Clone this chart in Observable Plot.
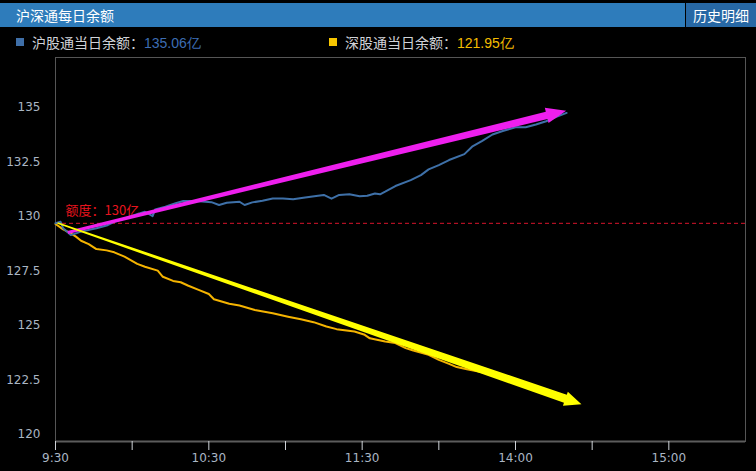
<!DOCTYPE html>
<html>
<head>
<meta charset="utf-8">
<script src="https://cdn.jsdelivr.net/npm/d3@7"></script>
<script src="https://cdn.jsdelivr.net/npm/@observablehq/plot@0.6"></script>
<style>
  html, body { margin: 0; padding: 0; background: #000; }
  body { width: 756px; height: 471px; position: relative; overflow: hidden; font-family: "Noto Sans CJK SC", "Noto Sans", sans-serif; }
  #hdr { position: absolute; left: 0; top: 3px; width: 756px; height: 24px; background: #2e7cbb; }
  #title { position: absolute; left: 16px; top: 0; line-height: 24px; font-size: 14px; color: #fff; }
  #sep { position: absolute; left: 685px; top: 0; width: 1px; height: 24px; background: #000; }
  #btn { position: absolute; left: 686px; top: 0; width: 70px; height: 24px; line-height: 24px; background: #2768a5; color: #fff; font-size: 14px; text-align: center; }
  .leg { position: absolute; top: 33px; height: 18px; line-height: 18px; font-size: 14px; color: #d0d3d8; white-space: nowrap; }
  .sw { position: absolute; top: 5px; width: 8px; height: 8px; }
  .lt { position: absolute; left: 16px; top: 0; }
  .num { font-family: "Liberation Sans", Arial, sans-serif; }
  #chart { position: absolute; left: 0; top: 50px; }
</style>
</head>
<body>
<div id="hdr"><div id="title">沪深通每日余额</div><div id="sep"></div><div id="btn">历史明细</div></div>
<div class="leg" id="leg1" style="left:16px"><div class="sw" style="left:0;background:#3f6fa8"></div><div class="lt">沪股通当日余额：<span class="num" id="v1" style="color:#3d6db3"></span></div></div>
<div class="leg" id="leg2" style="left:329px"><div class="sw" style="left:0;background:#f7c600"></div><div class="lt">深股通当日余额：<span class="num" id="v2" style="color:#f5bd00"></span></div></div>
<div id="chart"></div>
<script>
// ---- data (minutes of trading time since 9:30; 11:30 joins 13:00) ----
const shMin = [0, 2, 3, 6, 8, 10, 16, 20, 23, 26, 31, 35, 38, 39, 43, 47, 50, 55, 61, 64, 67, 72, 74, 77, 81, 85, 89, 93, 97, 102, 105, 108, 111, 115, 119, 122, 125, 127, 129, 133, 139, 143, 146, 150, 154, 160, 163, 167, 171, 175, 180, 184, 188, 192, 196, 200];
const shVal = [130.0, 130.07, 129.77, 129.46, 129.54, 129.62, 129.77, 129.9, 130.07, 130.18, 130.38, 130.53, 130.33, 130.64, 130.76, 130.92, 131.02, 131.02, 130.97, 130.84, 130.94, 130.99, 130.84, 130.96, 131.03, 131.14, 131.14, 131.1, 131.17, 131.25, 131.3, 131.13, 131.3, 131.33, 131.24, 131.26, 131.37, 131.33, 131.45, 131.71, 131.98, 132.21, 132.47, 132.67, 132.9, 133.17, 133.51, 133.78, 134.07, 134.23, 134.4, 134.4, 134.53, 134.68, 134.88, 135.06];
const szMin = [0, 3, 6, 8, 10, 13, 16, 20, 23, 27, 32, 35, 40, 42, 46, 49, 52, 56, 60, 62, 68, 72, 78, 85, 91, 96, 101, 106, 110, 117, 121, 123, 129, 133, 137, 140, 146, 150, 154, 157, 161, 170, 180, 190, 200];
const szVal = [129.97, 129.72, 129.54, 129.39, 129.2, 129.05, 128.82, 128.76, 128.67, 128.47, 128.14, 128.01, 127.83, 127.55, 127.36, 127.3, 127.14, 126.95, 126.76, 126.52, 126.31, 126.23, 126.03, 125.88, 125.72, 125.6, 125.47, 125.27, 125.15, 125.04, 124.89, 124.73, 124.58, 124.51, 124.28, 124.17, 123.97, 123.74, 123.56, 123.41, 123.31, 123.1, 122.75, 122.38, 121.95];
const xTicks = [0, 30, 60, 90, 120, 150, 180, 210, 240];
const xTickLabels = ["9:30", "", "10:30", "", "11:30", "", "14:00", "", "15:00"];
const yTicks = [120, 122.5, 125, 127.5, 130, 132.5, 135];
const yTickLabels = ["120", "122.5", "125", "127.5", "130", "132.5", "135"];
const quota = 130;
const quotaText = "额度：130亿";
// annotation arrows drawn on the picture: [minute, value]
const upArrowTail = [5, 129.56], upArrowTip = [200, 135.14];
const downArrowTail = [1, 129.99], downArrowTip = [206, 121.68];

document.getElementById("v1").textContent = shVal[shVal.length - 1].toFixed(2) + "亿";
document.getElementById("v2").textContent = szVal[szVal.length - 1].toFixed(2) + "亿";

const sh = shMin.map((m, i) => ({m, v: shVal[i]}));
const sz = szMin.map((m, i) => ({m, v: szVal[i]}));

const chart = Plot.plot({
  width: 756,
  height: 421,
  marginLeft: 55,
  marginRight: 11,
  marginTop: 7,
  marginBottom: 30,
  style: {background: "#000", fontFamily: "DejaVu Sans", fontSize: "12px", overflow: "visible"},
  x: {domain: [0, 270]},
  y: {domain: [120, 137.6]},
  marks: [
    Plot.frame({stroke: "#555"}),
    Plot.ruleY([120], {stroke: "#5c5c5c", strokeWidth: 2}),
    Plot.ruleY([quota], {stroke: "#d8142c", strokeDasharray: "4,3", strokeWidth: 1}),
    Plot.text([quotaText], {frameAnchor: "left", y: () => quota, text: d => d, dx: 10, dy: -12, textAnchor: "start", fill: "#e8141e", fontSize: 13, fontFamily: "Noto Sans CJK SC"}),
    Plot.axisX({ticks: xTicks, tickSize: 9, tickPadding: 3, stroke: "#cfd3d8", fill: "#aab6c4",
      tickFormat: (d) => xTickLabels[xTicks.indexOf(d)], label: null}),
    Plot.axisY({ticks: yTicks, tickSize: 0, tickPadding: 15, dy: -7, fill: "#aab6c4",
      tickFormat: (d) => yTickLabels[yTicks.indexOf(d)], label: null}),
    Plot.line(sz, {x: "m", y: "v", stroke: "#f5b400", strokeWidth: 2}),
    Plot.line(sh, {x: "m", y: "v", stroke: "#3e70a8", strokeWidth: 2})
  ]
});
document.getElementById("chart").appendChild(chart);

// tapered arrow annotations positioned through Plot's scales
const sx = chart.scale("x"), sy = chart.scale("y");
function arrowPath(tail, tip, w0, w1, H, W) {
  const x0 = sx.apply(tail[0]), y0 = sy.apply(tail[1]);
  const x1 = sx.apply(tip[0]), y1 = sy.apply(tip[1]);
  const L = Math.hypot(x1 - x0, y1 - y0);
  const ux = (x1 - x0) / L, uy = (y1 - y0) / L;
  const nx = -uy, ny = ux;
  const bx = x1 - ux * H, by = y1 - uy * H;
  const pts = [
    [x0 + nx * w0, y0 + ny * w0],
    [bx + nx * w1, by + ny * w1],
    [bx + nx * W, by + ny * W],
    [x1, y1],
    [bx - nx * W, by - ny * W],
    [bx - nx * w1, by - ny * w1],
    [x0 - nx * w0, y0 - ny * w0]
  ];
  return "M" + pts.map(p => p[0].toFixed(2) + "," + p[1].toFixed(2)).join("L") + "Z";
}
const g = d3.select(chart).append("g");
g.append("path").attr("d", arrowPath(upArrowTail, upArrowTip, 1.5, 3.7, 20, 7.8)).attr("fill", "#ee1fee");
g.append("path").attr("d", arrowPath(downArrowTail, downArrowTip, 0.8, 4.3, 17, 7.5)).attr("fill", "#ffff00");
</script>
</body>
</html>
